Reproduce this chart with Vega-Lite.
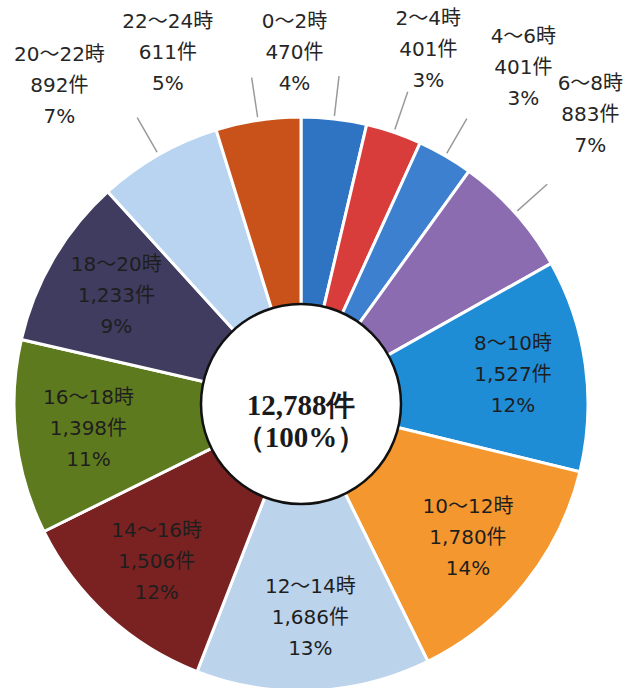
{
  "$schema": "https://vega.github.io/schema/vega-lite/v6.json",
  "autosize": {"type": "none"},
  "padding": {"top": 120, "left": 0, "right": 39, "bottom": 0},
  "width": 602,
  "height": 568,
  "background": "white",
  "view": {"stroke": null},
  "config": {"text": {"font": "DejaVu Sans, Noto Sans CJK JP"}},
  "data": {
    "values": [
      {"hours": "0～2時", "count": 470, "pct": 4, "order": 1},
      {"hours": "2～4時", "count": 401, "pct": 3, "order": 2},
      {"hours": "4～6時", "count": 401, "pct": 3, "order": 3},
      {"hours": "6～8時", "count": 883, "pct": 7, "order": 4},
      {"hours": "8～10時", "count": 1527, "pct": 12, "order": 5},
      {"hours": "10～12時", "count": 1780, "pct": 14, "order": 6},
      {"hours": "12～14時", "count": 1686, "pct": 13, "order": 7},
      {"hours": "14～16時", "count": 1506, "pct": 12, "order": 8},
      {"hours": "16～18時", "count": 1398, "pct": 11, "order": 9},
      {"hours": "18～20時", "count": 1233, "pct": 9, "order": 10},
      {"hours": "20～22時", "count": 892, "pct": 7, "order": 11},
      {"hours": "22～24時", "count": 611, "pct": 5, "order": 12}
    ]
  },
  "transform": [
    {"stack": "count", "groupby": [], "sort": [{"field": "order"}], "as": ["s0", "s1"]},
    {"calculate": "(datum.s0 + datum.s1) / 2", "as": "mid"},
    {"calculate": "[datum.hours, format(datum.count, ',') + '件', datum.pct + '%']", "as": "lines"}
  ],
  "layer": [
    {
      "mark": {"type": "arc", "stroke": "white", "strokeWidth": 3, "innerRadius": 88, "outerRadius": 287},
      "encoding": {
        "theta": {"field": "s0", "type": "quantitative", "stack": null, "scale": {"domain": [0, 12788], "range": [0, 6.283185307179586]}},
        "theta2": {"field": "s1"},
        "color": {
          "field": "hours", "type": "nominal", "legend": null,
          "scale": {
            "domain": ["0～2時", "2～4時", "4～6時", "6～8時", "8～10時", "10～12時", "12～14時", "14～16時", "16～18時", "18～20時", "20～22時", "22～24時"],
            "range": ["#2f74c2", "#d83d3b", "#3d80cf", "#8b6cb1", "#1f8dd6", "#f5972f", "#bcd3ec", "#7a2222", "#5e7a1f", "#3f3c5f", "#b9d4f0", "#c9521b"]
          }
        }
      }
    },
    {
      "transform": [{"filter": "datum.count < 1000"}],
      "mark": {"type": "arc", "stroke": "#9a9a9a", "strokeWidth": 1.5, "fillOpacity": 0, "radius": 330, "radius2": 290},
      "encoding": {
        "theta": {"field": "mid", "type": "quantitative", "stack": null},
        "theta2": {"field": "mid"}
      }
    },
    {
      "transform": [{"filter": "datum.order == 12"}],
      "mark": {"type": "text", "fontSize": 20, "lineHeight": 31, "color": "#262626", "baseline": "middle", "align": "center", "radius": 375, "thetaOffset": -0.213, "dy": -31},
      "encoding": {
        "theta": {"field": "mid", "type": "quantitative", "stack": null},
        "text": {"field": "lines", "type": "nominal"}
      }
    },
    {
      "transform": [{"filter": "datum.order == 11"}],
      "mark": {"type": "text", "fontSize": 20, "lineHeight": 31, "color": "#262626", "baseline": "middle", "align": "center", "radius": 399, "thetaOffset": -0.131, "dy": -31},
      "encoding": {
        "theta": {"field": "mid", "type": "quantitative", "stack": null},
        "text": {"field": "lines", "type": "nominal"}
      }
    },
    {
      "transform": [{"filter": "datum.order == 1"}],
      "mark": {"type": "text", "fontSize": 20, "lineHeight": 31, "color": "#262626", "baseline": "middle", "align": "center", "radius": 351, "thetaOffset": -0.134, "dy": -31},
      "encoding": {
        "theta": {"field": "mid", "type": "quantitative", "stack": null},
        "text": {"field": "lines", "type": "nominal"}
      }
    },
    {
      "transform": [{"filter": "datum.order == 2"}],
      "mark": {"type": "text", "fontSize": 20, "lineHeight": 31, "color": "#262626", "baseline": "middle", "align": "center", "radius": 376, "thetaOffset": 0.016, "dy": -31},
      "encoding": {
        "theta": {"field": "mid", "type": "quantitative", "stack": null},
        "text": {"field": "lines", "type": "nominal"}
      }
    },
    {
      "transform": [{"filter": "datum.order == 3"}],
      "mark": {"type": "text", "fontSize": 20, "lineHeight": 31, "color": "#262626", "baseline": "middle", "align": "center", "radius": 403, "thetaOffset": 0.058, "dy": -31},
      "encoding": {
        "theta": {"field": "mid", "type": "quantitative", "stack": null},
        "text": {"field": "lines", "type": "nominal"}
      }
    },
    {
      "transform": [{"filter": "datum.order == 4"}],
      "mark": {"type": "text", "fontSize": 20, "lineHeight": 31, "color": "#262626", "baseline": "middle", "align": "center", "radius": 409, "thetaOffset": -0.056, "dy": -31},
      "encoding": {
        "theta": {"field": "mid", "type": "quantitative", "stack": null},
        "text": {"field": "lines", "type": "nominal"}
      }
    },
    {
      "transform": [{"filter": "datum.count >= 1000"}],
      "mark": {"type": "text", "fontSize": 20, "lineHeight": 31, "color": "#1e1e1e", "baseline": "middle", "align": "center", "radius": 214, "dy": -31},
      "encoding": {
        "theta": {"field": "mid", "type": "quantitative", "stack": null},
        "text": {"field": "lines", "type": "nominal"}
      }
    },
    {
      "data": {"values": [{"total": "12,788件"}]},
      "mark": {"type": "arc", "theta": 0, "theta2": 6.2832, "radius": 100, "fill": "white", "stroke": "#111", "strokeWidth": 2.5},
      "encoding": {}
    },
    {
      "data": {"values": [{"lines": ["12,788件", "（100%）"]}]},
      "mark": {"type": "text", "font": "Liberation Serif", "fontWeight": "bold", "fontSize": 29, "lineHeight": 32, "color": "#1a1a1a", "baseline": "middle", "align": "center", "dy": 2},
      "encoding": {
        "text": {"field": "lines", "type": "nominal"}
      }
    }
  ]
}
